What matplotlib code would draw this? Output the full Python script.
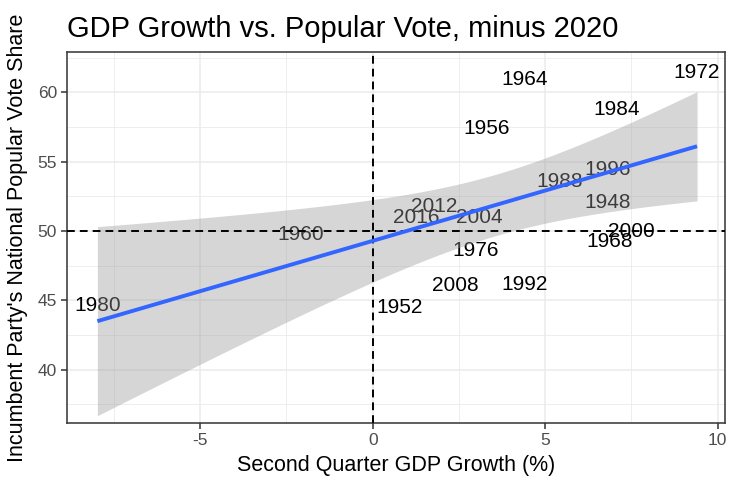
import numpy as np
import matplotlib
matplotlib.use("Agg")
import matplotlib.pyplot as plt
from matplotlib.ticker import MultipleLocator

# ---- data ----
years = [1948, 1952, 1956, 1960, 1964, 1968, 1972, 1976, 1980,
         1984, 1988, 1992, 1996, 2000, 2004, 2008, 2012, 2016]
gdp_growth = [6.81, 0.77, 3.29, -2.10, 4.39, 6.88, 9.40, 2.99, -7.98,
              7.08, 5.41, 4.39, 6.81, 7.49, 3.08, 2.39, 1.79, 1.27]
vote_share = [52.2, 44.6, 57.5, 49.9, 61.1, 49.4, 61.6, 48.75, 44.8,
              58.9, 53.7, 46.3, 54.6, 50.1, 51.1, 46.2, 51.9, 51.1]

title = "GDP Growth vs. Popular Vote, minus 2020"
xlabel = "Second Quarter GDP Growth (%)"
ylabel = "Incumbent Party's National Popular Vote Share"

plt.rcParams['font.family'] = ['Liberation Sans', 'DejaVu Sans']
plt.rcParams['axes.unicode_minus'] = False

fig = plt.figure(figsize=(7.38, 4.98), dpi=100)
ax = fig.add_axes([67.3 / 738, 1 - 423 / 498, (725 - 67.3) / 738, (423 - 52) / 498])

# grid
ax.set_axisbelow(True)
ax.xaxis.set_major_locator(MultipleLocator(5))
ax.xaxis.set_minor_locator(MultipleLocator(2.5))
ax.yaxis.set_major_locator(MultipleLocator(5))
ax.yaxis.set_minor_locator(MultipleLocator(2.5))
ax.grid(which='major', color='#EBEBEB', lw=1.1)
ax.grid(which='minor', color='#EBEBEB', lw=0.6)

# text labels
lab_size = 15
cap = 0.716 * lab_size
for yr, gx, vy in zip(years, gdp_growth, vote_share):
    ax.annotate(str(yr), (gx, vy), xytext=(0, -cap / 2), textcoords='offset points',
                ha='center', va='baseline', fontsize=lab_size, color='black', zorder=2)

# linear fit with 95% CI (geom_smooth(method="lm"))
x = np.array(gdp_growth)
y = np.array(vote_share)
n = len(x)
X = np.column_stack([np.ones(n), x])
beta, *_ = np.linalg.lstsq(X, y, rcond=None)
resid = y - X @ beta
s2 = resid @ resid / (n - 2)
XtXi = np.linalg.inv(X.T @ X)
xs = np.linspace(x.min(), x.max(), 80)
Xs = np.column_stack([np.ones_like(xs), xs])
fit = Xs @ beta
se = np.sqrt(s2 * np.einsum('ij,jk,ik->i', Xs, XtXi, Xs))
tq = 2.119905  # t(0.975, df=16)
ax.fill_between(xs, fit - tq * se, fit + tq * se, color='#999999', alpha=0.4, lw=0, zorder=3)

ax.axhline(50, color='black', lw=1.4, dashes=(4, 2.6), zorder=4)
ax.axvline(0, color='black', lw=1.4, dashes=(4, 2.6), zorder=4)
ax.plot(xs, fit, color='#3366FF', lw=2.8, zorder=5, solid_capstyle='butt')

ax.set_xlim(-8.852, 10.21)
ax.set_ylim(36.157, 62.906)

for sp in ax.spines.values():
    sp.set_color('#333333')
    sp.set_linewidth(1.1)
ax.tick_params(which='major', length=4.5, width=1.1, color='#333333',
               labelcolor='#4D4D4D', labelsize=12.5, pad=3)
ax.tick_params(which='minor', length=0)

ax.set_xlabel(xlabel, fontsize=15.5, color='black', labelpad=5)
ax.set_ylabel(ylabel, fontsize=15.5, color='black', labelpad=7)
ax.set_title(title, fontsize=21, color='black', loc='left', pad=11)

fig.savefig('out.png', dpi=100)
